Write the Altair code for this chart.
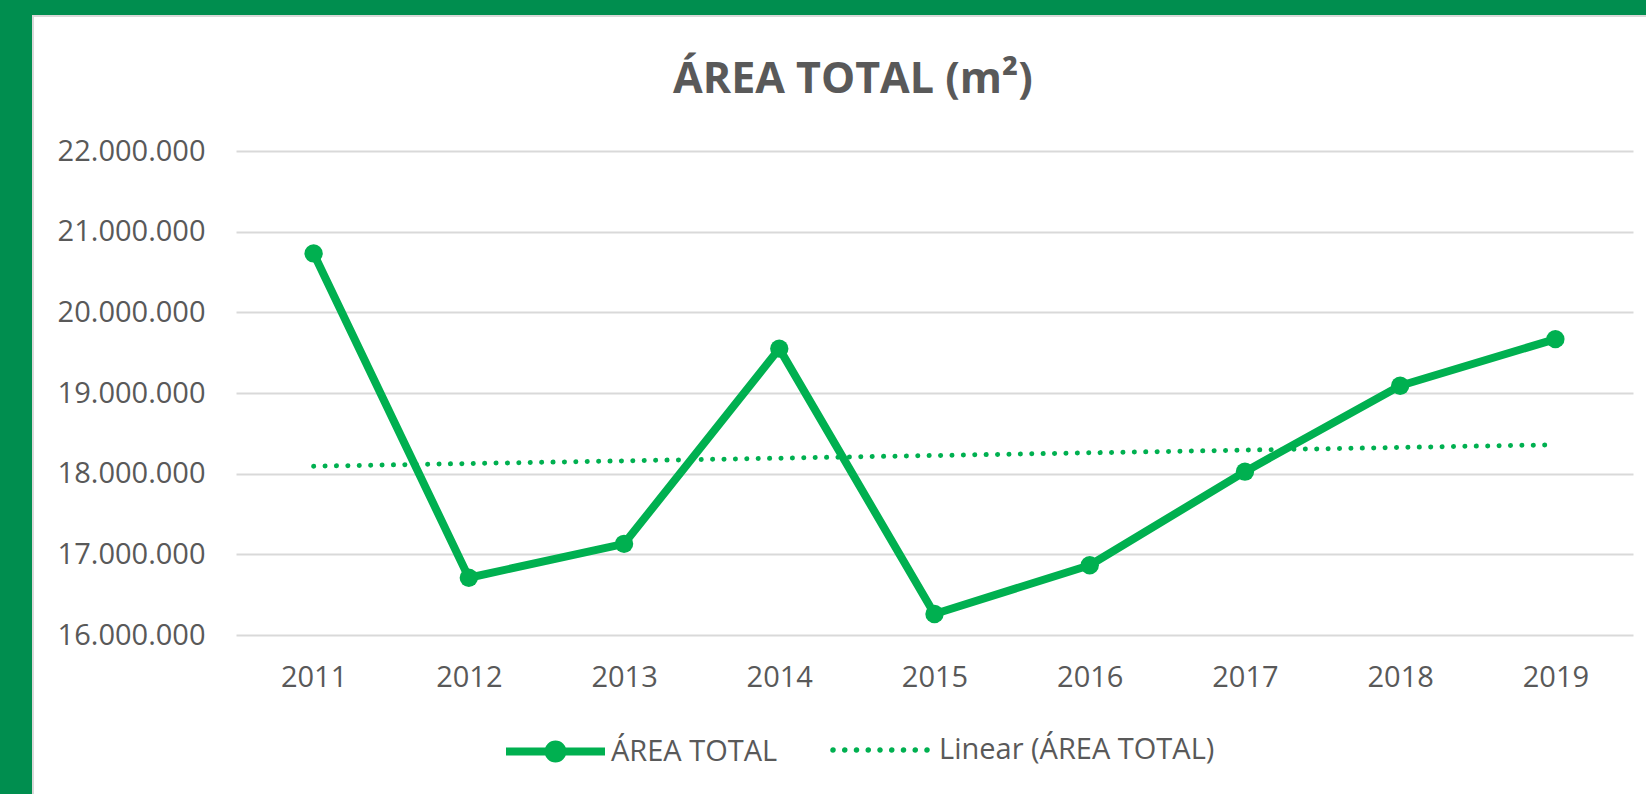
import altair as alt
import pandas as pd

# ---- data ----
years = [2011, 2012, 2013, 2014, 2015, 2016, 2017, 2018, 2019]
areas = [20730000, 16710000, 17130000, 19550000, 16260000, 16865000, 18025000, 19090000, 19668000]
serie = "ÁREA TOTAL"
trend_label = "Linear (ÁREA TOTAL)"
title_text = "ÁREA TOTAL (m²)"
y_ticks = [16000000, 17000000, 18000000, 19000000, 20000000, 21000000, 22000000]

GREEN = "#00B050"
FRAME = "#008E4F"
TEXT = "#595959"
GRID = "#D9D9D9"
FONT = "Open Sans"

W, H = 1397, 484
PAD = {"left": 236, "top": 151, "right": 13, "bottom": 159}

df = pd.DataFrame({"year": years, "area": areas, "serie": [serie] * len(years)})

x_enc = alt.X("year:Q",
              scale=alt.Scale(domain=[2010.5, 2019.5], nice=False, zero=False),
              axis=alt.Axis(values=years, format="d", title=None, grid=False, domain=False,
                            ticks=False, tickSize=0, labelPadding=28, labelFontSize=29,
                            labelFont=FONT, labelColor=TEXT, labelFlush=False))
y_enc = alt.Y("area:Q",
              scale=alt.Scale(domain=[16000000, 22000000], nice=False, zero=False),
              axis=alt.Axis(values=y_ticks, format=",.0f", title=None, grid=True, gridColor=GRID,
                            gridWidth=2, domain=False, ticks=False, tickSize=0, labelPadding=31,
                            labelFontSize=29, labelFont=FONT, labelColor=TEXT))

# frame strips (decoration outside the plot)
one = pd.DataFrame({"k": [0]})
frame_top = alt.Chart(one).mark_rect(color=FRAME).encode(
    x=alt.value(-236), x2=alt.value(W + 13), y=alt.value(-151), y2=alt.value(-136))
frame_left = alt.Chart(one).mark_rect(color=FRAME).encode(
    x=alt.value(-236), x2=alt.value(-204), y=alt.value(-151), y2=alt.value(H + 159))
edge_top = alt.Chart(one).mark_rect(color=GRID).encode(
    x=alt.value(-204), x2=alt.value(W + 13), y=alt.value(-136), y2=alt.value(-134))
edge_left = alt.Chart(one).mark_rect(color=GRID).encode(
    x=alt.value(-204), x2=alt.value(-202), y=alt.value(-136), y2=alt.value(H + 159))

title = alt.Chart(one).mark_text(font=FONT, fontSize=43, fontWeight="bold", color=TEXT,
                                 align="center", baseline="alphabetic").encode(
    x=alt.value(617), y=alt.value(-58), text=alt.value(title_text))

line_sym = ("M-1,0L1,0"
            "M0.14,0A0.14,0.14,0,1,1,-0.14,0A0.14,0.14,0,1,1,0.14,0"
            "M0.06,0A0.06,0.06,0,1,1,-0.06,0A0.06,0.06,0,1,1,0.06,0")


def ring(cx, r):
    return f"M{cx + r:.4f},0A{r},{r},0,1,1,{cx - r:.4f},0A{r},{r},0,1,1,{cx + r:.4f},0Z"


dots = []
for k in range(9):
    cx = -1 + k * 0.25
    dots.append(ring(cx, 0.042) + ring(cx, 0.015))
dot_sym = "".join(dots)

line = alt.Chart(df).mark_line(strokeWidth=8, strokeJoin="round", strokeCap="round").encode(
    x=x_enc, y=y_enc,
    color=alt.Color("serie:N", scale=alt.Scale(domain=[serie], range=[GREEN]),
                    legend=alt.Legend(title=None, orient="none", legendX=266, legendY=547,
                                      symbolType=line_sym, symbolSize=9801, symbolStrokeWidth=8,
                                      symbolStrokeColor=GREEN, symbolFillColor=GREEN,
                                      labelOffset=2, labelFontSize=29, labelFont=FONT,
                                      labelColor=TEXT, labelLimit=0)))
points = alt.Chart(df).mark_point(filled=True, size=336, color=GREEN, opacity=1).encode(x=x_enc, y=y_enc)

# visible dotted trend line (linear regression of the series)
trend = alt.Chart(df).transform_regression("year", "area").mark_line(
    color=GREEN, strokeWidth=5, strokeDash=[0.1, 11.3], strokeCap="round").encode(x=x_enc, y=y_enc)

# legend carrier for the trend line (draws nothing itself)
trend_legend = alt.Chart(df).transform_calculate(tend=f"'{trend_label}'").transform_filter(
    "false").mark_line(strokeWidth=1.6).encode(
    x=x_enc, y=y_enc,
    color=alt.Color("tend:N", scale=alt.Scale(domain=[trend_label], range=[GREEN]),
                    legend=alt.Legend(title=None, orient="none", legendX=596, legendY=551,
                                      symbolType=dot_sym, symbolSize=8836, symbolStrokeWidth=1.6,
                                      symbolStrokeColor=GREEN, symbolFillColor=GREEN,
                                      labelOffset=11, labelFontSize=29, labelFont=FONT,
                                      labelColor=TEXT, labelLimit=0)))

chart = alt.layer(frame_top, frame_left, edge_top, edge_left, title, trend, trend_legend,
                  line, points).resolve_scale(color="independent").resolve_legend(
    color="independent").properties(
    width=W, height=H,
    autosize=alt.AutoSizeParams(type="none"),
    padding=PAD,
    background="white",
).configure(
    locale={"number": {"decimal": ",", "thousands": ".", "grouping": [3], "currency": ["", ""]}}
).configure_view(stroke=None)

chart.save("out.html", embed_options={"renderer": "svg", "actions": False})
